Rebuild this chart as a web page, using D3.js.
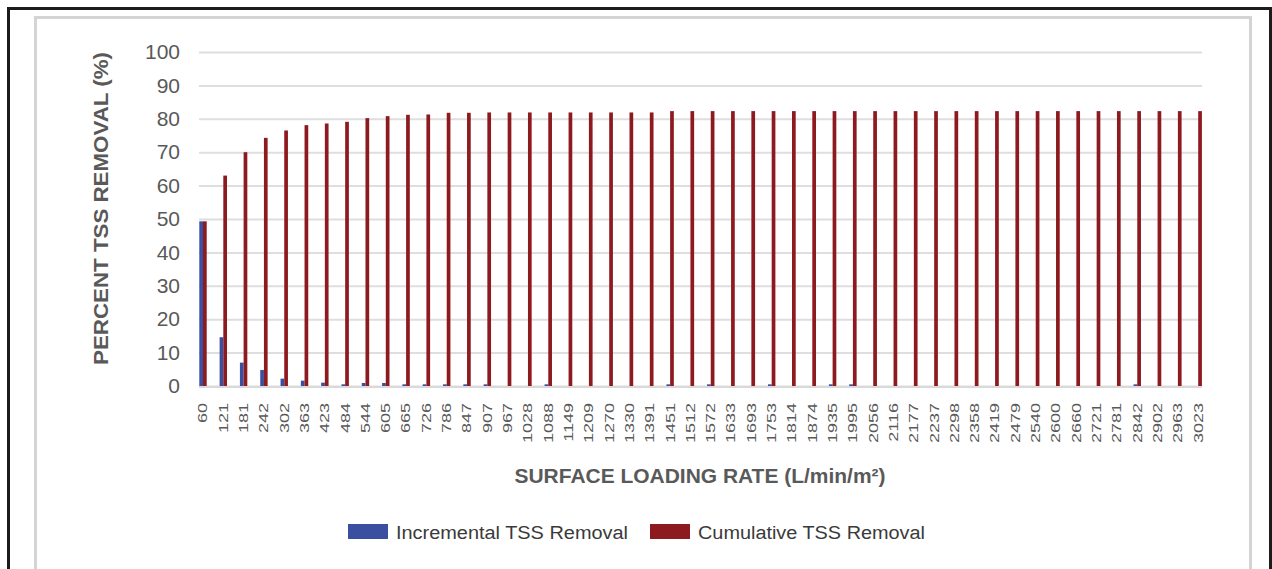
<!DOCTYPE html>
<html>
<head>
<meta charset="utf-8">
<script src="https://cdn.jsdelivr.net/npm/d3@7"></script>
<style>
    body { margin: 0; background: #fff; }
    svg { display: block; font-family: 'Liberation Sans', Arial, sans-serif; }
</style>
</head>
<body>
<script>
// Data
const categories = ['60', '121', '181', '242', '302', '363', '423', '484', '544', '605',
    '665', '726', '786', '847', '907', '967', '1028', '1088', '1149', '1209',
    '1270', '1330', '1391', '1451', '1512', '1572', '1633', '1693', '1753', '1814',
    '1874', '1935', '1995', '2056', '2116', '2177', '2237', '2298', '2358', '2419',
    '2479', '2540', '2600', '2660', '2721', '2781', '2842', '2902', '2963', '3023'];

const incremental = [49.3, 14.6, 7.0, 4.8, 2.2, 1.6, 1.0, 0.5, 0.9, 0.9,
    0.5, 0.5, 0.5, 0.5, 0.5, 0, 0, 0.5, 0, 0,
    0, 0, 0, 0.5, 0, 0.5, 0, 0, 0.5, 0,
    0, 0.5, 0.5, 0, 0, 0, 0, 0, 0, 0,
    0, 0, 0, 0, 0, 0, 0.5, 0, 0, 0];

const cumulative = [49.3, 63.0, 70.0, 74.3, 76.5, 78.1, 78.6, 79.1, 80.2, 80.8,
    81.2, 81.3, 81.8, 81.8, 81.9, 81.9, 81.9, 81.9, 81.9, 81.9,
    81.9, 81.9, 81.9, 82.3, 82.3, 82.3, 82.3, 82.3, 82.3, 82.3,
    82.3, 82.3, 82.3, 82.3, 82.3, 82.3, 82.3, 82.3, 82.3, 82.3,
    82.3, 82.3, 82.3, 82.3, 82.3, 82.3, 82.3, 82.3, 82.3, 82.3];

const yTicks = [0, 10, 20, 30, 40, 50, 60, 70, 80, 90, 100];

const seriesNames = ['Incremental TSS Removal', 'Cumulative TSS Removal'];
const seriesColors = ['#3a4fa0', '#8c1a1f'];

const width = 1272, height = 569;
const plot = { left: 199, right: 1202, top: 52, bottom: 386 };
const textColor = '#595959';

let svg = d3.select('body')
    .append('svg')
    .attr('width', width)
    .attr('height', height);

// Outer frames
svg.append('rect')
    .attr('x', 8.5).attr('y', 8.5)
    .attr('width', 1262).attr('height', 600)
    .attr('fill', 'none')
    .attr('stroke', '#1c1c1c')
    .attr('stroke-width', 3);

svg.append('rect')
    .attr('x', 35.5).attr('y', 17.5)
    .attr('width', 1215).attr('height', 600)
    .attr('fill', 'none')
    .attr('stroke', '#d4d4d4')
    .attr('stroke-width', 3);

// Scales
let x = d3.scalePoint().domain(categories).range([203, 1198.2]);
let xSub = d3.scaleBand().domain(seriesNames).range([-3.7, 3.7]);
let y = d3.scaleLinear().domain([0, 100]).range([plot.bottom, plot.top]);

// Set y-axis with gridlines
let yAxis = svg.append('g')
    .attr('transform', `translate(${plot.left}, 0)`)
    .call(d3.axisLeft(y).tickValues(yTicks).tickSize(-(plot.right - plot.left)).tickPadding(19));

yAxis.select('.domain').remove();
yAxis.selectAll('line').attr('stroke', '#dedede').attr('stroke-width', 2);
yAxis.selectAll('text')
    .attr('fill', textColor)
    .style('font-size', '21px');

// Baseline (under the bars so the small ones stay visible)
svg.append('line')
    .attr('x1', plot.left).attr('x2', plot.right)
    .attr('y1', plot.bottom + 1).attr('y2', plot.bottom + 1)
    .attr('stroke', '#d9d9d9')
    .attr('stroke-width', 2);

// Set x-axis
let xAxis = svg.append('g')
    .attr('transform', `translate(0, ${plot.bottom})`)
    .call(d3.axisBottom(x).tickSize(0));

xAxis.select('.domain').remove();
xAxis.selectAll('text')
    .attr('fill', textColor)
    .style('font-size', '18px')
    .attr('text-anchor', 'end')
    .attr('x', -17)
    .attr('y', 0)
    .attr('dy', '0.36em')
    .attr('transform', 'translate(-1, 0) scale(0.75, 1) rotate(-90)');

// Bars
let groups = svg.selectAll('.group')
    .data(categories.map((c, i) => ({ c, values: [incremental[i], cumulative[i]] })))
    .enter()
    .append('g')
    .attr('class', 'group')
    .attr('transform', d => `translate(${x(d.c)}, 0)`);

groups.selectAll('rect')
    .data(d => d.values.map((v, i) => ({ name: seriesNames[i], v, i })))
    .enter()
    .append('rect')
    .attr('x', d => xSub(d.name))
    .attr('width', xSub.bandwidth())
    .attr('y', d => y(d.v))
    .attr('height', d => y(0) - y(d.v))
    .attr('fill', d => seriesColors[d.i]);

// Axis titles
svg.append('text')
    .attr('transform', `translate(108, ${(plot.top + 365) / 2}) rotate(-90)`)
    .attr('text-anchor', 'middle')
    .attr('fill', textColor)
    .style('font-size', '21px')
    .style('font-weight', 'bold')
    .attr('textLength', 313)
    .attr('lengthAdjust', 'spacingAndGlyphs')
    .text('PERCENT TSS REMOVAL (%)');

svg.append('text')
    .attr('x', 700)
    .attr('y', 483)
    .attr('text-anchor', 'middle')
    .attr('fill', textColor)
    .style('font-size', '21px')
    .style('font-weight', 'bold')
    .attr('textLength', 371)
    .attr('lengthAdjust', 'spacingAndGlyphs')
    .text('SURFACE LOADING RATE (L/min/m\u00b2)');

// Legend
const legendItems = [
    { x: 348, textLength: 232 },
    { x: 650, textLength: 227 }
];

let legend = svg.selectAll('.legend')
    .data(seriesNames)
    .enter()
    .append('g')
    .attr('class', 'legend')
    .attr('transform', (d, i) => `translate(${legendItems[i].x}, 524)`);

legend.append('rect')
    .attr('width', 40)
    .attr('height', 15)
    .attr('fill', (d, i) => seriesColors[i]);

legend.append('text')
    .attr('x', 48)
    .attr('y', 15)
    .attr('fill', '#3a3a3a')
    .style('font-size', '18px')
    .attr('textLength', (d, i) => legendItems[i].textLength)
    .attr('lengthAdjust', 'spacingAndGlyphs')
    .text(d => d);
</script>
</body>
</html>
